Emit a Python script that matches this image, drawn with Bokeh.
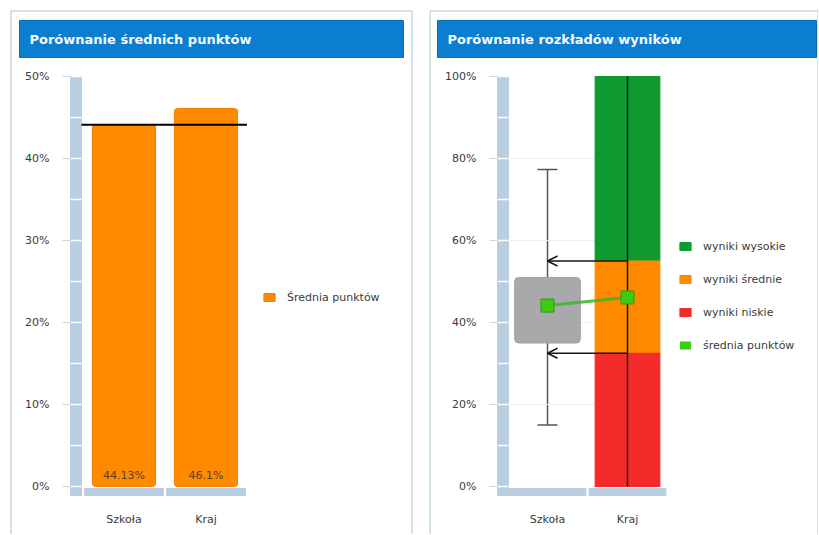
from bokeh.plotting import figure
from bokeh.models import (Range1d, FixedTicker, Legend, LegendItem, Arrow, OpenHead,
                          Whisker, TeeHead, ColumnDataSource, Row)
from bokeh.core.properties import value
from bokeh.embed import file_html
from bokeh.resources import INLINE

# ---------------- data ----------------
categories = ["Szkoła", "Kraj"]
mean_points = [44.13, 46.1]
mean_labels = ["44.13%", "46.1%"]
left_ticks = [0, 10, 20, 30, 40, 50]
left_tick_labels = ["0%", "10%", "20%", "30%", "40%", "50%"]
right_ticks = [0, 20, 40, 60, 80, 100]
right_tick_labels = ["0%", "20%", "40%", "60%", "80%", "100%"]
# Kraj distribution bands
band_names = ["wyniki wysokie", "wyniki średnie", "wyniki niskie"]
band_bottoms = [55.0, 32.5, 0.0]
band_tops = [100.0, 55.0, 32.5]
band_colors = ["#0e9a30", "#ff8a00", "#f52a2a"]
mean_color = "#3ccc14"
# Szkoła distribution
school_box = [35.0, 51.0]
school_whisker = [15.0, 77.3]

FONT = "DejaVu Sans"
TXT = "#3a3a3a"
AXIS_BLUE = "#b9cee0"
TITLE_BLUE = "#0b7ecf"
BORDER = "#a8c5d8"
H = 534
xs = list(range(len(categories)))


class Panel:
    """Maps page pixels of the panel to data coordinates (decorations only)."""
    def __init__(self, left, width, cat0_px, ppu, zero_py, ppy):
        self.left, self.width = left, width
        self.cat0_px, self.ppu, self.zero_py, self.ppy = cat0_px, ppu, zero_py, ppy

    def X(self, px):
        return (px - self.cat0_px) / self.ppu

    def Y(self, py):
        return (self.zero_py - py) / self.ppy

    def figure(self):
        p = figure(width=self.width, height=H,
                   x_range=Range1d(self.X(self.left), self.X(self.left + self.width)),
                   y_range=Range1d(self.Y(H), self.Y(0)), title=None,
                   output_backend="svg", toolbar_location=None,
                   min_border_left=0, min_border_right=0, min_border_top=0, min_border_bottom=0)
        p.outline_line_color = None
        p.background_fill_color = "white"
        p.border_fill_color = "white"
        p.grid.visible = False
        p.xaxis.ticker = FixedTicker(ticks=xs)
        p.xaxis.major_label_overrides = {i: c for i, c in enumerate(categories)}
        p.xaxis.axis_line_color = None
        p.xaxis.major_tick_line_color = None
        p.xaxis.minor_tick_line_color = None
        p.xaxis.major_tick_out = 0
        p.xaxis.major_tick_in = 0
        p.xaxis.major_label_standoff = 15
        p.xaxis.fixed_location = self.Y(497)
        p.yaxis.axis_line_color = None
        p.yaxis.minor_tick_line_color = None
        p.yaxis.major_tick_in = 0
        p.yaxis.major_tick_out = 8
        p.yaxis.major_tick_line_color = "#cfd6dc"
        p.yaxis.major_label_standoff = 13
        for ax in (p.xaxis, p.yaxis):
            ax.major_label_text_font = FONT
            ax.major_label_text_font_size = "11px"
            ax.major_label_text_color = TXT
        return p

    def decorate(self, p, title, border, bar, text_x):
        bl, br = border
        p.line(x=[self.X(bl), self.X(bl), self.X(br), self.X(br)],
               y=[self.Y(H + 10), self.Y(10.5), self.Y(10.5), self.Y(H + 10)],
               line_color=BORDER, line_width=1)
        p.quad(left=self.X(bar[0]), right=self.X(bar[1]), top=self.Y(20), bottom=self.Y(57),
               fill_color=TITLE_BLUE, line_color="#0a6db5", line_width=1)
        p.text(x=[self.X(text_x)], y=[self.Y(38.5)], text=[title], text_baseline="middle",
               text_font=value(FONT), text_font_size="13px", text_font_style="bold",
               text_color="#f4f9ff")

    def y_bar(self, p, x0, x1, top, step):
        p.quad(left=self.X(x0), right=self.X(x1), bottom=self.Y(495), top=top, color=AXIS_BLUE)
        notch = [k * step for k in range(int(top / step) + 1)]
        p.segment(x0=[self.X(x0)] * len(notch), x1=[self.X(x1)] * len(notch), y0=notch,
                  y1=notch, line_color="white", line_width=1.5)
        p.quad(left=[i - 0.48 for i in xs], right=[i + 0.48 for i in xs],
               bottom=self.Y(495), top=self.Y(488), color=AXIS_BLUE)
        p.yaxis.fixed_location = self.X(x0)


def legend(items, loc):
    return Legend(items=items, location=loc, background_fill_alpha=0, border_line_color=None,
                  padding=0, margin=0, glyph_width=14, glyph_height=10, label_standoff=11,
                  label_height=20, spacing=13, label_text_font=FONT,
                  label_text_font_size="11px", label_text_color=TXT)


# ---------------- left chart ----------------
P1 = Panel(left=0, width=414, cat0_px=123.5, ppu=82.0, zero_py=486, ppy=8.2)
p1 = P1.figure()
p1.yaxis.ticker = FixedTicker(ticks=left_ticks)
p1.yaxis.major_label_overrides = dict(zip(left_ticks, left_tick_labels))
P1.decorate(p1, "Porównanie średnich punktów", (10.5, 411.5), (19, 403), 29)
P1.y_bar(p1, 70, 81, left_ticks[-1], 5)
bars = p1.vbar(x=xs, top=mean_points, bottom=0, width=0.77, fill_color="#ff8a00",
               line_color="#f08000", border_radius=3)
p1.segment(x0=P1.X(81), x1=len(categories) - 0.5, y0=mean_points[0], y1=mean_points[0],
           line_color="black", line_width=2)
p1.text(x=xs, y=[0] * len(xs), text=mean_labels, text_align="center", text_baseline="bottom",
        y_offset=-5, text_font=value(FONT), text_font_size="11px", text_color="#5a4020")
p1.add_layout(legend([LegendItem(label="Średnia punktów", renderers=[bars])],
                     (262, H - 307)))

# ---------------- right chart ----------------
P2 = Panel(left=426, width=392, cat0_px=547, ppu=80.0, zero_py=486, ppy=4.1)
p2 = P2.figure()
p2.yaxis.ticker = FixedTicker(ticks=right_ticks)
p2.yaxis.major_label_overrides = dict(zip(right_ticks, right_tick_labels))
P2.decorate(p2, "Porównanie rozkładów wyników", (429.5, 817.5), (437, 816), 447)
P2.y_bar(p2, 497, 508, right_ticks[-1], 10)
gl = right_ticks[1:-1]
p2.segment(x0=[P2.X(508)] * len(gl), x1=[1] * len(gl), y0=gl, y1=gl,
           line_color="#efefef", line_width=1)

ws = ColumnDataSource(dict(base=[0], lower=[school_whisker[0]], upper=[school_whisker[1]]))
p2.add_layout(Whisker(source=ws, base="base", lower="lower", upper="upper", dimension="height",
                      line_color="#555555", line_width=1.5, level="underlay",
                      upper_head=TeeHead(size=20, line_color="#555555", line_width=1.5),
                      lower_head=TeeHead(size=20, line_color="#555555", line_width=1.5)))

band_r = []
for b, t, c in zip(band_bottoms, band_tops, band_colors):
    band_r.append(p2.vbar(x=[1], bottom=[b], top=[t], width=0.81, fill_color=c, line_color=c))
p2.vbar(x=[0], bottom=[school_box[0]], top=[school_box[1]], width=0.82,
        fill_color="#a9a9ab", line_color="#a0a0a2", border_radius=4)
p2.segment(x0=[1], x1=[1], y0=[band_bottoms[-1]], y1=[band_tops[0]], line_color="#151515",
           line_width=1.5)
asrc = ColumnDataSource(dict(xs=[1, 1], ys=[band_bottoms[0], band_bottoms[1]], xe=[0, 0],
                             ye=[band_bottoms[0], band_bottoms[1]]))
p2.add_layout(Arrow(source=asrc, x_start="xs", y_start="ys", x_end="xe", y_end="ye",
                    line_color="#151515", line_width=1.5,
                    end=OpenHead(size=10, line_color="#151515", line_width=1.5)))
p2.line(x=xs, y=mean_points, line_color="#3cb52a", line_width=3, line_alpha=0.85)
p2.scatter(x=xs, y=mean_points, marker="square", size=13, fill_color=mean_color,
           line_color="#2b9c10", line_width=1)
# zero-height key glyph so the legend shows a square like the other entries
mean_key = p2.vbar(x=xs[:1], bottom=mean_points[:1], top=mean_points[:1], width=0.01,
                   fill_color=mean_color, line_color=None)
items = [LegendItem(label=n, renderers=[r]) for n, r in zip(band_names, band_r)]
items.append(LegendItem(label="średnia punktów", renderers=[mean_key]))
p2.add_layout(legend(items, (678 - 426, H - 355)))

layout = Row(children=[p1, p2], spacing=12)
open("out.html", "w").write(file_html(layout, INLINE))
